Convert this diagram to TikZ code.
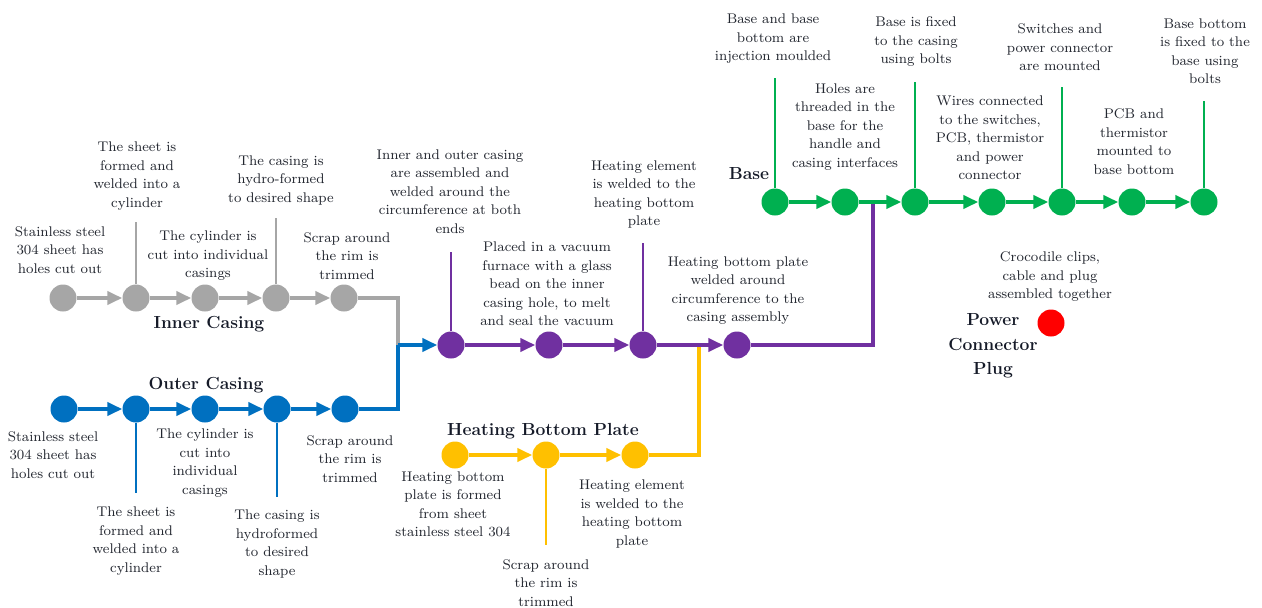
\documentclass[tikz,border=0pt]{standalone}
\usepackage{fontspec}
\newfontfamily\lblfont{lmroman8-regular}[Extension=.otf]
\usetikzlibrary{arrows.meta}
\definecolor{gry}{HTML}{A6A6A6}
\definecolor{blu}{HTML}{0070C0}
\definecolor{pur}{HTML}{7030A0}
\definecolor{yel}{HTML}{FFC000}
\definecolor{grn}{HTML}{00B050}
\definecolor{plugred}{HTML}{FF0000}
\definecolor{txt}{HTML}{22262F}
\definecolor{ttlc}{HTML}{151A28}
\begin{document}
\begin{tikzpicture}[x=1pt,y=-1pt,
  dot/.style={circle,fill=#1,draw=none,minimum size=27pt,inner sep=0pt},
  flow/.style={draw=#1,line width=4pt,-{Triangle[length=15pt,width=13pt]}},
  link/.style={draw=#1,line width=4pt},
  lead/.style={draw=#1,line width=1.3pt},
  lbl/.style={align=center,inner sep=0pt,text=txt,font=\lblfont\fontsize{14}{18.5}\selectfont},
  ttlbl/.style={align=center,inner sep=0pt,text=ttlc,font=\bfseries\fontsize{17.5}{24.5}\selectfont}]
\useasboundingbox (0,0) rectangle (1262,608);

% ---------- stage nodes ----------
% inner casing
\node[dot=gry] (g1) at (63,298) {};
\node[dot=gry] (g2) at (136,298) {};
\node[dot=gry] (g3) at (205,298) {};
\node[dot=gry] (g4) at (276,298) {};
\node[dot=gry] (g5) at (344,298) {};
% outer casing
\node[dot=blu] (b1) at (64,409) {};
\node[dot=blu] (b2) at (136,409) {};
\node[dot=blu] (b3) at (205,409) {};
\node[dot=blu] (b4) at (277,409) {};
\node[dot=blu] (b5) at (345,409) {};
% casing assembly
\node[dot=pur] (p1) at (451,345) {};
\node[dot=pur] (p2) at (549,345) {};
\node[dot=pur] (p3) at (643,345) {};
\node[dot=pur] (p4) at (737,345) {};
% heating bottom plate
\node[dot=yel] (y1) at (455,455) {};
\node[dot=yel] (y2) at (546,455) {};
\node[dot=yel] (y3) at (635,455) {};
% base
\node[dot=grn] (s1) at (775,202) {};
\node[dot=grn] (s2) at (845,202) {};
\node[dot=grn] (s3) at (915,202) {};
\node[dot=grn] (s4) at (992,202) {};
\node[dot=grn] (s5) at (1062,202) {};
\node[dot=grn] (s6) at (1132,202) {};
\node[dot=grn] (s7) at (1204,202) {};
% power connector plug
\node[dot=plugred] (r1) at (1051,323) {};

% ---------- junctions ----------
\coordinate (cj) at (398,345);
\coordinate (yj) at (699,345);
\coordinate (pj) at (873,202);

% ---------- flows ----------
\draw[flow=gry] (g1) -- (g2);
\draw[flow=gry] (g2) -- (g3);
\draw[flow=gry] (g3) -- (g4);
\draw[flow=gry] (g4) -- (g5);
\draw[link=gry] (g5) -| (cj);

\draw[flow=blu] (b1) -- (b2);
\draw[flow=blu] (b2) -- (b3);
\draw[flow=blu] (b3) -- (b4);
\draw[flow=blu] (b4) -- (b5);
\draw[link=blu] (b5) -| (cj);
\draw[flow=blu] (cj) -- (p1);

\draw[flow=yel] (y1) -- (y2);
\draw[flow=yel] (y2) -- (y3);
\draw[link=yel] (y3) -| (yj);

\draw[flow=pur] (p1) -- (p2);
\draw[flow=pur] (p2) -- (p3);
\draw[flow=pur] (p3) -- (p4);
\draw[link=pur] (p4) -| (pj);

\draw[flow=grn] (s1) -- (s2);
\draw[flow=grn] (s2) -- (s3);
\draw[flow=grn] (s3) -- (s4);
\draw[flow=grn] (s4) -- (s5);
\draw[flow=grn] (s5) -- (s6);
\draw[flow=grn] (s6) -- (s7);

% ---------- leader lines ----------
\coordinate (lg2) at (136,222);
\coordinate (lg4) at (276,218);
\coordinate (lb2) at (136,493);
\coordinate (lb4) at (277,497);
\coordinate (lp1) at (451,252);
\coordinate (lp3) at (643,243);
\coordinate (ly2) at (546,545);
\coordinate (ls1) at (775,78);
\coordinate (ls3) at (915,82);
\coordinate (ls5) at (1062,87);
\coordinate (ls7) at (1204,101);
\draw[lead=gry] (g2) -- (lg2);
\draw[lead=gry] (g4) -- (lg4);
\draw[lead=blu] (b2) -- (lb2);
\draw[lead=blu] (b4) -- (lb4);
\draw[lead=pur] (p1) -- (lp1);
\draw[lead=pur] (p3) -- (lp3);
\draw[lead=yel] (y2) -- (ly2);
\draw[lead=grn] (s1) -- (ls1);
\draw[lead=grn] (s3) -- (ls3);
\draw[lead=grn] (s5) -- (ls5);
\draw[lead=grn] (s7) -- (ls7);

% ---------- titles ----------
\node[ttlbl] (tin) at (209,324) {Inner Casing};
\node[ttlbl] (tout) at (206,385) {Outer Casing};
\node[ttlbl] (thb) at (543,431) {Heating Bottom Plate};
\node[ttlbl] (tbase) at (749,174) {Base};
\node[ttlbl] (tplug) at (993,346) {Power\\Connector\\Plug};

% ---------- step descriptions ----------
\node[lbl] (tg1) at (60,250) {Stainless steel\\304 sheet has\\holes cut out};
\node[lbl] (tg2) at (137,176) {The sheet is\\formed and\\welded into a\\cylinder};
\node[lbl] (tg3) at (208,256) {The cylinder is\\cut into individual\\casings};
\node[lbl] (tg4) at (281,180) {The casing is\\hydro-formed\\to desired shape};
\node[lbl] (tg5) at (347,256) {Scrap around\\the rim is\\trimmed};

\node[lbl] (tb1) at (53,455) {Stainless steel\\304 sheet has\\holes cut out};
\node[lbl] (tb2) at (136,541) {The sheet is\\formed and\\welded into a\\cylinder};
\node[lbl] (tb3) at (205,463) {The cylinder is\\cut into\\individual\\casings};
\node[lbl] (tb4) at (277,544) {The casing is\\hydroformed\\to desired\\shape};
\node[lbl] (tb5) at (350,459) {Scrap around\\the rim is\\trimmed};

\node[lbl] (tp1) at (450,191.5) {Inner and outer casing\\are assembled and\\welded around the\\circumference at both\\ends};
\node[lbl] (tp2) at (547,284) {Placed in a vacuum\\furnace with a glass\\bead on the inner\\casing hole, to melt\\and seal the vacuum};
\node[lbl] (tp3) at (644,194.5) {Heating element\\is welded to the\\heating bottom\\plate};
\node[lbl] (tp4) at (738,290.5) {Heating bottom plate\\welded around\\circumference to the\\casing assembly};

\node[lbl] (ty1) at (453,504.5) {Heating bottom\\plate is formed\\from sheet\\stainless steel 304};
\node[lbl] (ty2) at (546,583) {Scrap around\\the rim is\\trimmed};
\node[lbl] (ty3) at (632,514) {Heating element\\is welded to the\\heating bottom\\plate};

\node[lbl] (ts1) at (773,39) {Base and base\\bottom are\\injection moulded};
\node[lbl] (ts2) at (845,127) {Holes are\\threaded in the\\base for the\\handle and\\casing interfaces};
\node[lbl] (ts3) at (916,42) {Base is fixed\\to the casing\\using bolts};
\node[lbl] (ts4) at (990,138) {Wires connected\\to the switches,\\PCB, thermistor\\and power\\connector};
\node[lbl] (ts5) at (1060,47.5) {Switches and\\power connector\\are mounted};
\node[lbl] (ts6) at (1134,141.5) {PCB and\\thermistor\\mounted to\\base bottom};
\node[lbl] (ts7) at (1205,51) {Base bottom\\is fixed to the\\base using\\bolts};

\node[lbl] (tr1) at (1050,277) {Crocodile clips,\\cable and plug\\assembled together};
\end{tikzpicture}
\end{document}
